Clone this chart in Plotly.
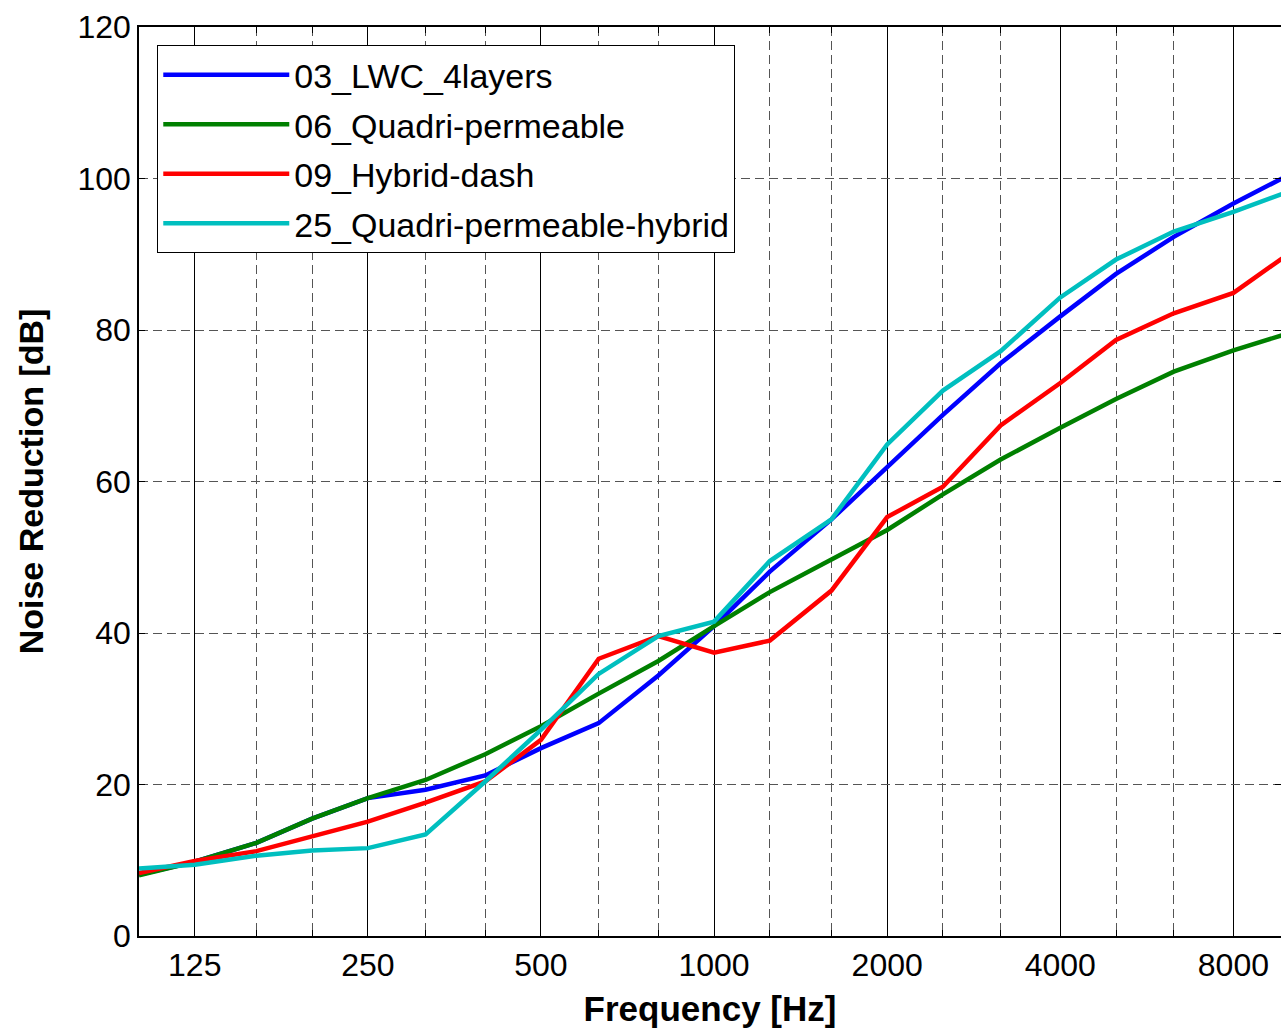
import plotly.graph_objects as go
import numpy as np

freqs = [100, 125, 160, 200, 250, 315, 400, 500, 630, 800, 1000, 1250, 1600,
         2000, 2500, 3150, 4000, 5000, 6300, 8000, 10000]

lwc_4layers = [8.1, 9.8, 12.3, 15.5, 18.2, 19.3, 21.2, 24.8, 28.1, 34.4, 40.9,
               48.1, 55.0, 61.8, 68.8, 75.6, 81.8, 87.4, 92.3, 96.7, 100.5]
quadri_permeable = [8.0, 9.8, 12.3, 15.5, 18.2, 20.6, 24.0, 27.7, 32.0, 36.3, 40.9,
                    45.4, 49.7, 53.6, 58.3, 62.9, 67.1, 70.9, 74.5, 77.3, 79.6]
hybrid_dash = [8.3, 9.9, 11.2, 13.1, 15.1, 17.6, 20.4, 25.9, 36.6, 39.6, 37.4,
               39.0, 45.6, 55.3, 59.3, 67.4, 73.0, 78.7, 82.2, 84.9, 90.1]
quadri_perm_hybrid = [8.9, 9.4, 10.6, 11.3, 11.6, 13.4, 20.4, 27.2, 34.6, 39.6, 41.5,
                      49.5, 55.0, 64.9, 72.0, 77.2, 84.3, 89.3, 93.0, 95.6, 98.3]

series_names = ["03_LWC_4layers", "06_Quadri-permeable", "09_Hybrid-dash",
                "25_Quadri-permeable-hybrid"]
series_values = [lwc_4layers, quadri_permeable, hybrid_dash, quadri_perm_hybrid]
series_colors = ["#0000FF", "#008000", "#FF0000", "#00BFBF"]

major_ticks = [125, 250, 500, 1000, 2000, 4000, 8000]
major_labels = ["125", "250", "500", "1000", "2000", "4000", "8000"]
minor_ticks = [160, 200, 315, 400, 630, 800, 1250, 1600, 2500, 3150, 5000, 6300]
y_ticks = [0, 20, 40, 60, 80, 100, 120]

FONT = "Liberation Sans, Arial, sans-serif"

fig = go.Figure()
for i, (name, vals, col) in enumerate(zip(series_names, series_values, series_colors)):
    fig.add_trace(go.Scatter(
        x=freqs, y=vals, mode="lines", name=name,
        line=dict(color=col, width=4.5),
        legendgroup="g%d" % i,
    ))

# the original figure is cropped on the right, just before 10 kHz
FIG_W = 1283
x_right = 8000 * 2 ** ((FIG_W - 1235.3) / 173.5)

fig.update_layout(
    width=FIG_W, height=1028,
    margin=dict(l=139, r=0, t=27, b=92),
    paper_bgcolor="white", plot_bgcolor="white",
    font=dict(family=FONT, color="black"),
    showlegend=True,
    legend=dict(
        x=0.016, y=0.98, xanchor="left", yanchor="top",
        bgcolor="white", bordercolor="black", borderwidth=1,
        font=dict(size=34, family=FONT, color="black"),
        tracegroupgap=2.3, itemwidth=126,
    ),
    xaxis=dict(
        type="log",
        range=[np.log10(100), np.log10(x_right)],
        tickmode="array", tickvals=major_ticks, ticktext=major_labels,
        tickfont=dict(size=32, family=FONT),
        showgrid=True, gridcolor="black", gridwidth=1,
        ticks="inside", ticklen=6, tickcolor="black",
        showline=True, linecolor="black", linewidth=1.5, mirror="ticks",
        zeroline=False,
        minor=dict(tickmode="array", tickvals=minor_ticks, showgrid=True,
                   gridcolor="#555555", griddash="9px,5px", gridwidth=1,
                   ticks="inside", ticklen=6, tickcolor="black"),
        title=dict(text="<b>Frequency [Hz]</b>", font=dict(size=35, family=FONT),
                   standoff=14),
    ),
    yaxis=dict(
        range=[0, 120],
        tickmode="array", tickvals=y_ticks,
        tickfont=dict(size=32, family=FONT),
        showgrid=True, gridcolor="#555555", griddash="9px,5px", gridwidth=1,
        ticks="inside", ticklen=6, tickcolor="black",
        showline=True, linecolor="black", linewidth=1.5, mirror="ticks",
        zeroline=False,
        title=dict(text="<b>Noise Reduction [dB]</b>", font=dict(size=34, family=FONT),
                   standoff=24),
    ),
)

fig.write_html(
    "out.html",
    config={"displayModeBar": False},
    post_script="document.body.style.margin='0px';document.body.style.overflow='hidden';",
)
